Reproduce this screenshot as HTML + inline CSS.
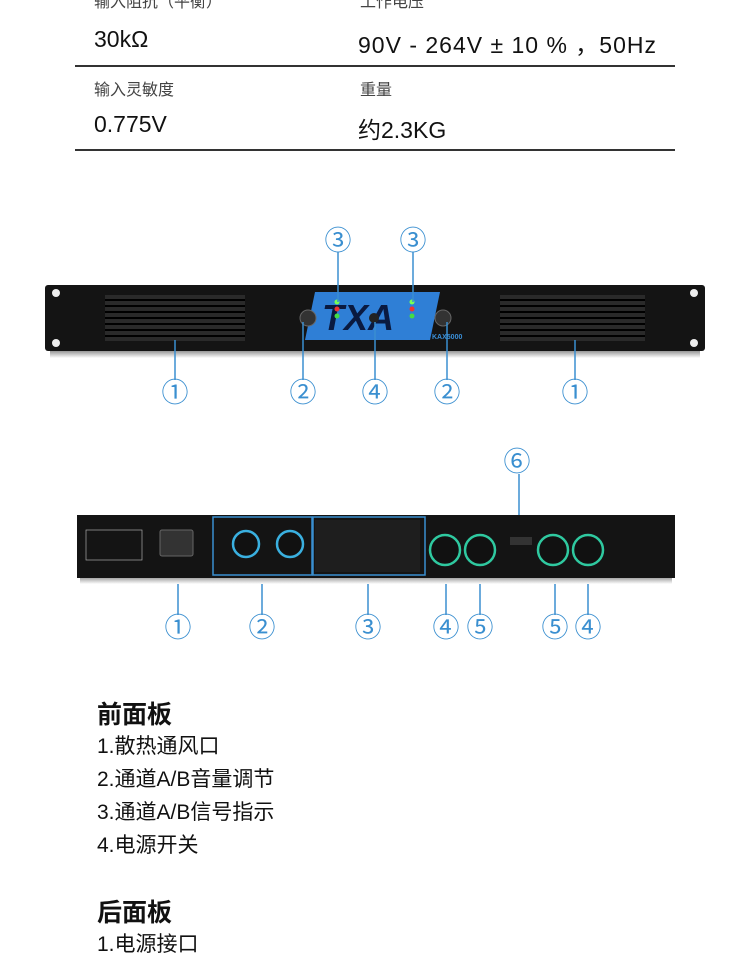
<!DOCTYPE html>
<html><head><meta charset="utf-8"><style>
body{margin:0;width:750px;height:960px;background:#fff;position:relative;overflow:hidden;font-family:"Liberation Sans","Noto Sans CJK SC",sans-serif;color:#111}
.a{position:absolute;white-space:nowrap}
.lab{font-size:16px;color:#444}
.val{font-size:23px;color:#111}
.hr{position:absolute;left:75px;width:600px;height:2px;background:#333}
.h{font-size:25px;font-weight:bold}
.li{font-size:21px}
</style></head><body>
<div class="a lab" style="left:94px;top:-12px">输入阻抗（平衡）</div>
<div class="a lab" style="left:360px;top:-12px">工作电压</div>
<div class="a val" style="left:94px;top:26px">30kΩ</div>
<div class="a val" style="left:358px;top:26px;letter-spacing:1px">90V - 264V ± 10 % ，50Hz</div>
<div class="hr" style="top:65px"></div>
<div class="a lab" style="left:94px;top:76px">输入灵敏度</div>
<div class="a lab" style="left:360px;top:76px">重量</div>
<div class="a val" style="left:94px;top:111px">0.775V</div>
<div class="a val" style="left:358px;top:111px">约2.3KG</div>
<div class="hr" style="top:149px"></div>

<svg class="a" style="left:0;top:0" width="750" height="960">
<defs><linearGradient id="sh" x1="0" y1="0" x2="0" y2="1"><stop offset="0" stop-color="#888"/><stop offset="1" stop-color="#fff"/></linearGradient></defs>
<rect x="50" y="350" width="650" height="8" fill="url(#sh)"/>
<rect x="45" y="285" width="660" height="66" rx="3" fill="#141414"/>
<circle cx="56" cy="293" r="4" fill="#eee"/><circle cx="56" cy="343" r="4" fill="#eee"/>
<circle cx="694" cy="293" r="4" fill="#eee"/><circle cx="694" cy="343" r="4" fill="#eee"/>
<g fill="#2a2a2a">
<rect x="105" y="295" width="140" height="46"/><rect x="500" y="295" width="145" height="46"/></g>
<g stroke="#000" stroke-width="2">
<line x1="105" y1="300" x2="245" y2="300"/><line x1="105" y1="306" x2="245" y2="306"/><line x1="105" y1="312" x2="245" y2="312"/><line x1="105" y1="318" x2="245" y2="318"/><line x1="105" y1="324" x2="245" y2="324"/><line x1="105" y1="330" x2="245" y2="330"/><line x1="105" y1="336" x2="245" y2="336"/>
<line x1="500" y1="300" x2="645" y2="300"/><line x1="500" y1="306" x2="645" y2="306"/><line x1="500" y1="312" x2="645" y2="312"/><line x1="500" y1="318" x2="645" y2="318"/><line x1="500" y1="324" x2="645" y2="324"/><line x1="500" y1="330" x2="645" y2="330"/><line x1="500" y1="336" x2="645" y2="336"/></g>
<polygon points="315,292 440,292 430,340 305,340" fill="#2f7fd6"/>
<text x="322" y="330" font-size="36" font-weight="bold" font-style="italic" fill="#0a1a40" font-family="Liberation Sans">TXA</text>
<circle cx="308" cy="318" r="8" fill="#333" stroke="#666"/><circle cx="443" cy="318" r="8" fill="#333" stroke="#666"/>
<circle cx="374" cy="318" r="5" fill="#222"/>
<circle cx="337" cy="302" r="2.5" fill="#7f5"/><circle cx="337" cy="309" r="2.5" fill="#e33"/><circle cx="337" cy="316" r="2.5" fill="#4d4"/>
<circle cx="412" cy="302" r="2.5" fill="#7f5"/><circle cx="412" cy="309" r="2.5" fill="#e33"/><circle cx="412" cy="316" r="2.5" fill="#4d4"/>
<text x="432" y="339" font-size="7" fill="#3a8fd8" font-weight="bold">KAX5000</text>
<g stroke="#3a8fd0" stroke-width="1.5">
<line x1="338" y1="252" x2="338" y2="302"/><line x1="413" y1="252" x2="413" y2="302"/>
<line x1="175" y1="340" x2="175" y2="380"/><line x1="303" y1="322" x2="303" y2="380"/><line x1="375" y1="322" x2="375" y2="380"/><line x1="447" y1="322" x2="447" y2="380"/><line x1="575" y1="340" x2="575" y2="380"/>
<line x1="178" y1="555" x2="178" y2="615"/><line x1="262" y1="575" x2="262" y2="615"/><line x1="368" y1="575" x2="368" y2="615"/>
<line x1="446" y1="560" x2="446" y2="615"/><line x1="480" y1="560" x2="480" y2="615"/><line x1="555" y1="560" x2="555" y2="615"/><line x1="588" y1="560" x2="588" y2="615"/>
<line x1="519" y1="474" x2="519" y2="525"/></g>
<g fill="#3a8fd0" font-size="27" text-anchor="middle" font-family="Noto Sans CJK SC,sans-serif">
<text x="338" y="250">③</text><text x="413" y="250">③</text>
<text x="175" y="402">①</text><text x="303" y="402">②</text><text x="375" y="402">④</text><text x="447" y="402">②</text><text x="575" y="402">①</text>
<text x="517" y="471">⑥</text>
<text x="178" y="637">①</text><text x="262" y="637">②</text><text x="368" y="637">③</text><text x="446" y="637">④</text><text x="480" y="637">⑤</text><text x="555" y="637">⑤</text><text x="588" y="637">④</text></g>
<rect x="80" y="576" width="592" height="8" fill="url(#sh)"/>
<rect x="77" y="515" width="598" height="63" fill="#141414"/>
<rect x="86" y="530" width="56" height="30" fill="none" stroke="#aaa" stroke-width="0.7"/>
<rect x="160" y="530" width="33" height="26" rx="2" fill="#333" stroke="#666"/>
<rect x="315" y="520" width="105" height="52" fill="#1e1e1e"/>
<rect x="213" y="517" width="99" height="58" fill="none" stroke="#3a8fd0" stroke-width="1.5"/>
<rect x="313" y="517" width="112" height="58" fill="none" stroke="#3a8fd0" stroke-width="1.5"/>
<g fill="#111" stroke="#3ab0e0" stroke-width="2.5"><circle cx="246" cy="544" r="13"/><circle cx="290" cy="544" r="13"/></g>
<g fill="#111" stroke="#2fc9a0" stroke-width="2.5"><circle cx="445" cy="550" r="15"/><circle cx="480" cy="550" r="15"/><circle cx="553" cy="550" r="15"/><circle cx="588" cy="550" r="15"/></g>
<rect x="510" y="537" width="22" height="8" fill="#333"/>
</svg>

<div class="a h" style="left:97px;top:695px">前面板</div>
<div class="a li" style="left:97px;top:730px">1.散热通风口</div>
<div class="a li" style="left:97px;top:763px">2.通道A/B音量调节</div>
<div class="a li" style="left:97px;top:796px">3.通道A/B信号指示</div>
<div class="a li" style="left:97px;top:829px">4.电源开关</div>
<div class="a h" style="left:97px;top:893px">后面板</div>
<div class="a li" style="left:97px;top:928px">1.电源接口</div>
</body></html>
